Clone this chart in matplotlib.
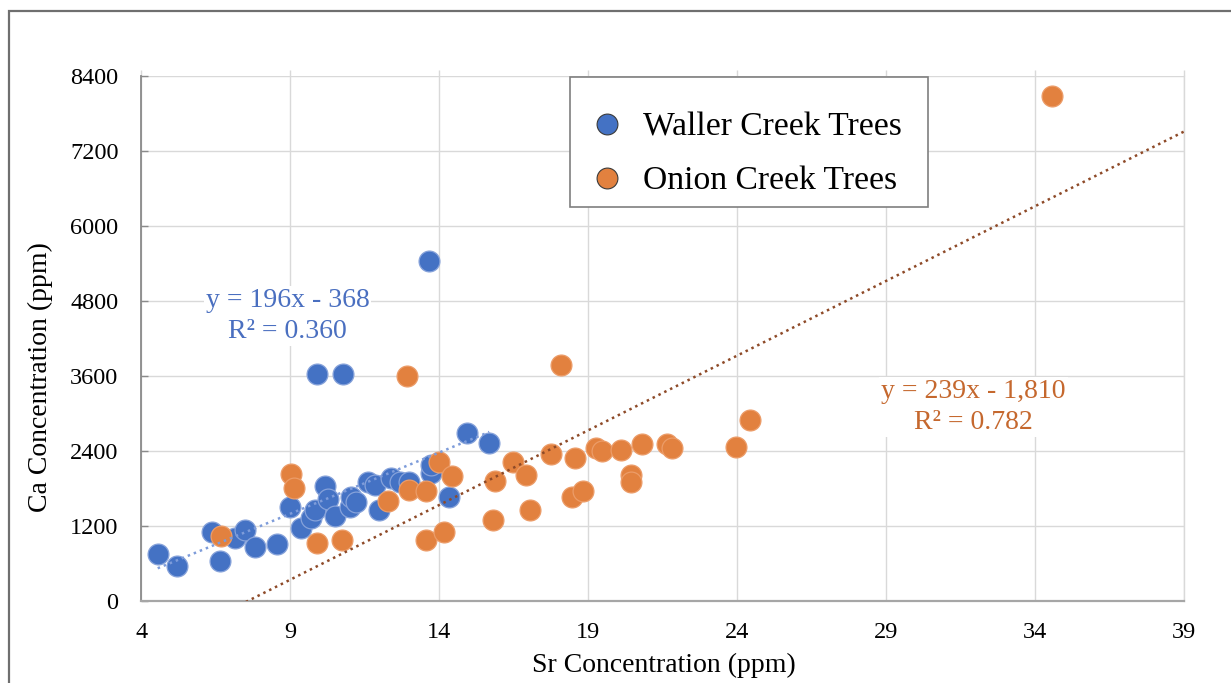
import numpy as np
import matplotlib
matplotlib.use("Agg")
import matplotlib.pyplot as plt
from matplotlib.lines import Line2D
from matplotlib.patches import Rectangle

plt.rcParams['font.family'] = ['Liberation Serif', 'DejaVu Serif']

# Sr (ppm) and Ca (ppm) for each tree
waller_sr = [4.55, 5.19, 6.36, 6.64, 7.14, 7.47, 7.81, 8.54, 9.00, 9.35,
             9.71, 9.82, 10.18, 10.26, 10.51, 10.99, 11.05, 11.22, 11.60, 11.83,
             11.97, 12.39, 12.67, 13.00, 13.73, 13.73, 14.32, 14.93, 15.68,
             9.89, 10.76, 13.67]
waller_ca = [747, 565, 1099, 640, 1003, 1136, 869, 907, 1499, 1163,
             1323, 1456, 1840, 1627, 1360, 1509, 1669, 1589, 1909, 1856,
             1456, 1963, 1909, 1909, 2043, 2176, 1669, 2693, 2523,
             3632, 3632, 5440]

onion_sr = [6.69, 9.03, 9.13, 9.91, 10.75, 12.27, 12.92, 13.00, 13.54, 13.54,
            14.00, 14.17, 14.43, 15.79, 15.88, 16.46, 16.91, 17.06, 17.75, 18.08,
            18.47, 18.81, 18.56, 19.26, 19.46, 20.11, 20.43, 20.43, 20.82, 21.65,
            21.82, 23.95, 24.43, 34.58]
onion_ca = [1040, 2027, 1803, 923, 981, 1600, 3600, 1776, 1760, 976,
            2219, 1099, 2005, 1296, 1920, 2229, 2016, 1456, 2347, 3776,
            1669, 1760, 2293, 2443, 2400, 2416, 2016, 1909, 2507, 2507,
            2443, 2459, 2896, 8080]

# Linear fits as reported on the chart
waller_fit = (196, -368, 0.360)
onion_fit = (239, -1810, 0.782)

series_labels = ['Waller Creek Trees', 'Onion Creek Trees']
x_ticks = [4, 9, 14, 19, 24, 29, 34, 39]
y_ticks = [0, 1200, 2400, 3600, 4800, 6000, 7200, 8400]

BLUE = '#4472C4'
ORANGE = '#E2813F'
BLUE_EDGE = '#86A2DA'
ORANGE_EDGE = '#EC9C68'
BLUE_TREND = '#7E9CDA'
ORANGE_TREND = '#8E4A28'
BLUE_TEXT = '#4A6FC0'
ORANGE_TEXT = '#C5682E'
GRID = '#D9D9D9'

W, H = 1231, 683
fig = plt.figure(figsize=(W / 100, H / 100), dpi=100)
fig.patch.set_facecolor('white')


def fx(px):
    return px / W


def fy(py):
    return 1 - py / H


# outer chart frame
fig.patches.append(Rectangle((fx(9), -0.1), 1.2, fy(11) + 0.1,
                             transform=fig.transFigure, fill=False,
                             edgecolor='#6F6F6F', linewidth=1.6, zorder=0))

left, right, bottom, top = 141.3, 1184, 601, 76
ax = fig.add_axes([fx(left), fy(bottom), (right - left) / W, (bottom - top) / H])

ax.set_xlim(x_ticks[0], x_ticks[-1])
ax.set_ylim(y_ticks[0], y_ticks[-1])
ax.set_xticks(x_ticks)
ax.set_yticks(y_ticks)
ax.set_xticklabels([str(t) for t in x_ticks])
ax.set_yticklabels([str(t) for t in y_ticks])

ax.grid(True, color=GRID, linewidth=1.0, zorder=0)
ax.set_axisbelow(True)

ax.spines['top'].set_visible(False)
ax.spines['right'].set_color(GRID)
ax.spines['right'].set_linewidth(1.0)
ax.spines['left'].set_color('#8A8A8A')
ax.spines['left'].set_linewidth(1.3)
ax.spines['bottom'].set_color('#A6A6A6')
ax.spines['bottom'].set_linewidth(1.6)

ax.tick_params(axis='y', direction='in', length=5, width=1.0, color='#8A8A8A',
               labelsize=17.5, pad=16.5, right=False)
ax.tick_params(axis='x', bottom=False, top=True, labeltop=False, labelbottom=True,
               direction='out', length=4.5, width=1.0, color=GRID,
               labelsize=17.5, pad=10.5)

ms = 225
ax.scatter(waller_sr, waller_ca, s=ms, color=BLUE, edgecolors=BLUE_EDGE,
           linewidths=0.9, zorder=3)
ax.scatter(onion_sr, onion_ca, s=ms, color=ORANGE, edgecolors=ORANGE_EDGE,
           linewidths=0.9, zorder=4)

# trendlines
wx = np.linspace(min(waller_sr), max(waller_sr), 50)
ax.plot(wx, waller_fit[0] * wx + waller_fit[1], color=BLUE_TREND,
        linestyle=(0, (1, 1.6)), linewidth=1.8, zorder=5)
ox = np.linspace(x_ticks[0], x_ticks[-1], 100)
ax.plot(ox, onion_fit[0] * ox + onion_fit[1], color=ORANGE_TREND,
        linestyle=(0, (1, 1.6)), linewidth=1.8, zorder=5)


def fit_text(slope, intercept, r2):
    sign = '-' if intercept < 0 else '+'
    return f"y = {slope}x {sign} {abs(intercept):,}\nR² = {r2:.3f}"


box = dict(facecolor='white', edgecolor='none', pad=1.5)
ax.text(8.91, 4560, fit_text(*waller_fit), color=BLUE_TEXT, fontsize=20,
        ha='center', va='center', linespacing=1.32, bbox=box, zorder=6)
ax.text(31.93, 3104, fit_text(*onion_fit), color=ORANGE_TEXT, fontsize=20,
        ha='center', va='center', linespacing=1.27, bbox=box, zorder=6)

ax.set_xlabel('Sr Concentration (ppm)', fontsize=20, va='center')
ax.xaxis.set_label_coords(0.501, (bottom - 665) / (bottom - top))
ax.set_ylabel('Ca Concentration (ppm)', fontsize=20, va='center')
ax.yaxis.set_label_coords((40 - left) / (right - left), (bottom - 377) / (bottom - top))

# legend box with marker keys
fig.patches.append(Rectangle((fx(570), fy(207)), (928 - 570) / W, (207 - 77) / H,
                             transform=fig.transFigure, facecolor='white',
                             edgecolor='#7F7F7F', linewidth=1.2, zorder=10))
key_colors = [BLUE, ORANGE]
key_rows = [124, 177.5]
for label, color, row in zip(series_labels, key_colors, key_rows):
    fig.add_artist(Line2D([fx(607)], [fy(row)], transform=fig.transFigure,
                          linestyle='none', marker='o', markersize=15,
                          markerfacecolor=color, markeredgecolor='#3A3A3A',
                          markeredgewidth=0.8, zorder=11))
    fig.text(fx(643), fy(row + 11), label, fontsize=24.2, ha='left',
             va='baseline', zorder=11)

fig.savefig('out.png', dpi=100, facecolor='white')
